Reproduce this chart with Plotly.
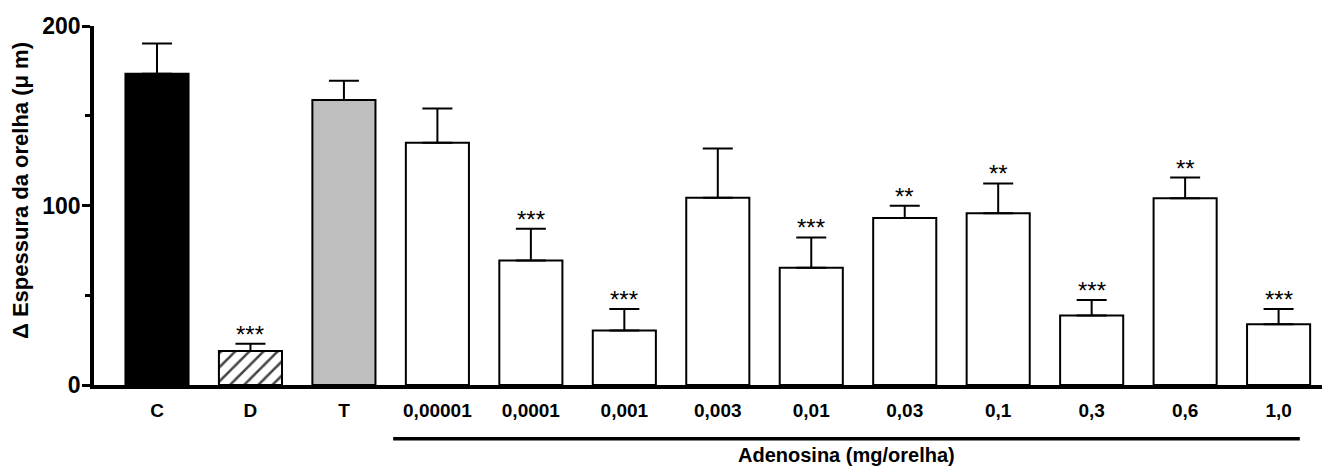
import plotly.graph_objects as go

categories = ["C", "D", "T", "0,00001", "0,0001", "0,001", "0,003", "0,01", "0,03", "0,1", "0,3", "0,6", "1,0"]
means = [173.4, 19.0, 158.8, 135.0, 69.3, 30.3, 104.3, 65.3, 93.1, 95.7, 38.7, 104.1, 33.8]
sem = [16.9, 4.0, 10.7, 19.0, 17.7, 12.1, 27.5, 16.9, 6.7, 16.6, 8.7, 11.5, 8.6]
signif = ["", "***", "", "", "***", "***", "", "***", "**", "**", "***", "**", "***"]
fills = ["black", "white", "#bebebe"] + ["white"] * 10
patterns = ["", "/", ""] + [""] * 10

FONT = "Liberation Sans, Arial, sans-serif"
xs = list(range(len(categories)))

fig = go.Figure()
fig.add_trace(go.Bar(
    x=xs, y=means, width=0.675,
    marker=dict(color=fills, line=dict(color="black", width=2),
                pattern=dict(shape=patterns, fgcolor="black", bgcolor="white", fgopacity=1,
                             size=10, solidity=0.25, fillmode="overlay")),
    error_y=dict(type="data", symmetric=False, array=sem, arrayminus=[0] * len(sem),
                 color="black", thickness=2, width=15),
    showlegend=False,
))

annotations = []
for i, (m, e, s) in enumerate(zip(means, sem, signif)):
    if s:
        annotations.append(dict(x=i, y=m + e, xref="x", yref="y", text=s, showarrow=False,
                                yanchor="bottom", yshift=-6,
                                font=dict(family=FONT, size=24, color="black")))

annotations.append(dict(xref="paper", yref="paper", x=-0.0599, y=0.543, text="Δ Espessura da orelha (μ m)",
                        textangle=-90, showarrow=False, xanchor="center", yanchor="middle",
                        font=dict(family=FONT, size=22, color="black", weight="bold")))
annotations.append(dict(xref="x", yref="paper", x=7.377, y=-0.195, text="Adenosina (mg/orelha)",
                        showarrow=False, xanchor="center", yanchor="middle",
                        font=dict(family=FONT, size=20, color="black", weight="bold")))

fig.add_shape(type="line", xref="x", yref="paper", x0=2.527, x1=12.227, y0=-0.150, y1=-0.150,
              line=dict(color="black", width=3.5))

# the page body has an 8px default margin, so the figure is shifted by 8px
fig.update_layout(
    width=1322, height=460,
    margin=dict(l=86, r=0, t=18, b=83, autoexpand=False),
    paper_bgcolor="white", plot_bgcolor="white",
    annotations=annotations,
    xaxis=dict(range=[-0.674, 12.55], tickmode="array", tickvals=xs, ticktext=categories,
               showline=True, linecolor="black", linewidth=3.5, ticks="", showgrid=False,
               zeroline=False, tickfont=dict(family=FONT, size=19, color="black", weight="bold"),
               ticklabelstandoff=5),
    yaxis=dict(range=[0, 200], tickmode="linear", tick0=0, dtick=100,
               showline=True, linecolor="black", linewidth=3.5, ticks="outside", ticklen=8,
               tickwidth=3, tickcolor="black", showgrid=False, zeroline=False,
               tickfont=dict(family=FONT, size=23, color="black", weight="bold"),
               ticklabelstandoff=-3,
               minor=dict(dtick=50, ticks="outside", ticklen=5, tickwidth=3, tickcolor="black")),
)

fig.write_html("out.html")
